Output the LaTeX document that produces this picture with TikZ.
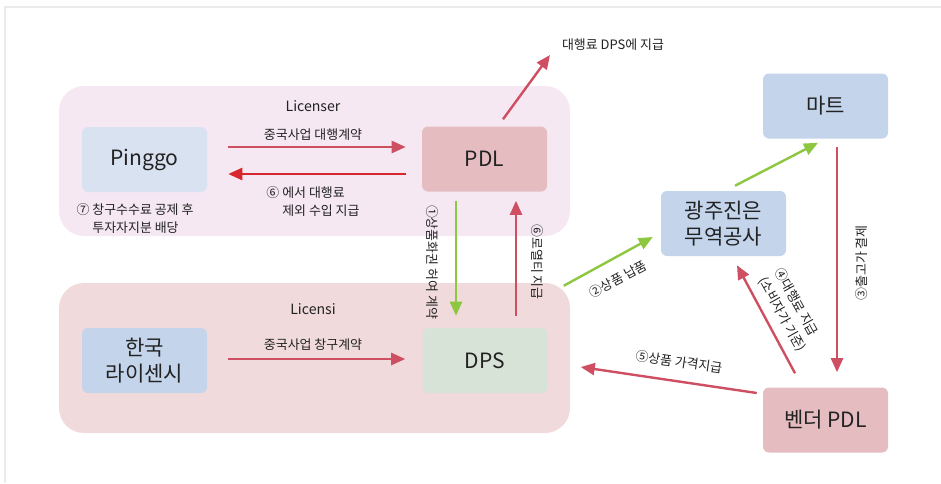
\documentclass[tikz,border=0pt]{standalone}
\usepackage{fontspec}
\setmainfont{Noto Sans CJK KR}
\usetikzlibrary{arrows.meta,calc}
\definecolor{regA}{HTML}{F5E8F3}
\definecolor{regB}{HTML}{F0DADC}
\definecolor{boxblue}{HTML}{C3D4EB}
\definecolor{boxlblue}{HTML}{D9E2F1}
\definecolor{boxpink}{HTML}{E5BCC0}
\definecolor{boxgreen}{HTML}{D8E3D8}
\definecolor{redarr}{HTML}{CF4F62}
\definecolor{brightred}{HTML}{D7262E}
\definecolor{greenarr}{HTML}{8DC63F}
\definecolor{txt}{HTML}{222222}
\tikzset{
  box/.style={rounded corners=4.5pt, minimum width=93.75pt, minimum height=48.75pt, inner sep=0pt, align=center, font=\fontsize{15.8}{19.5}\selectfont, text=txt},
  lbl/.style={font=\fontsize{9.7}{13.5}\selectfont, text=txt, inner sep=1pt},
  hdr/.style={font=\fontsize{10.6}{13}\selectfont, text=txt, inner sep=1pt},
  arr/.style={line width=1.8pt, -{Triangle[length=10.5pt,width=9pt]}},
  redline/.style={arr, draw=redarr},
  greenline/.style={arr, draw=greenarr},
}
\begin{document}
\begin{tikzpicture}[x=0.75pt,y=-0.75pt]
\useasboundingbox (0,0) rectangle (941,483);
\draw[black!8, line width=1.5pt] (5,483) -- (5,7) -- (941,7);
% regions
\fill[regA, rounded corners=18.75pt] (59,86) rectangle (570,236);
\fill[regB, rounded corners=18.75pt] (59,283) rectangle (570,433);
\node[hdr] (licenser) at (313,106) {Licenser};
\node[hdr] (licensi) at (313,309) {Licensi};
% boxes
\node[box, fill=boxlblue] (pinggo) at (144.5,159.5) {Pinggo};
\node[box, fill=boxpink] (pdl) at (484.5,159) {PDL};
\node[box, fill=boxblue] (hanguk) at (144.5,360.5) {한국\\라이센시};
\node[box, fill=boxgreen] (dps) at (485,360.5) {DPS};
\node[box, fill=boxblue] (mart) at (825.5,106) {마트};
\node[box, fill=boxblue] (gwangju) at (723.5,223.5) {광주진은\\무역공사};
\node[box, fill=boxpink] (vendor) at (825.5,420) {벤더 PDL};
\coordinate (dpspay) at (550,55);
% arrows
\draw[redline] ($(pinggo.east)+(21,-12.5)$) -- ($(pdl.west)+(-16,-12)$);
\draw[arr, draw=brightred] ($(pdl.west)+(-16,15)$) -- ($(pinggo.east)+(21,14.5)$);
\draw[redline] ($(hanguk.east)+(21,-1.5)$) -- ($(dps.west)+(-17,-1.5)$);
\draw[greenline] ($(pdl.south)+(-28.5,9)$) -- ($(dps.north)+(-29,-12)$);
\draw[redline] ($(dps.north)+(31,-12)$) -- ($(pdl.south)+(31.5,9)$);
\draw[redline] ($(pdl.north)+(18.5,-7)$) -- (dpspay);
\draw[greenline] ($(dps.north east)+(16,-42)$) -- ($(gwangju.west)+(-8,13.5)$);
\draw[greenline] ($(gwangju.north)+(11.5,-5)$) -- ($(mart.south)+(-7.5,4)$);
\draw[redline] ($(mart.south)+(11.5,8)$) -- ($(vendor.north)+(11.5,-15)$);
\draw[redline] ($(vendor.north)+(-30.5,-14)$) -- ($(gwangju.south)+(13.5,9)$);
\draw[redline] ($(vendor.west)+(-6,-27)$) -- ($(dps.east)+(33,6.5)$);
% labels
\node[lbl] (l1) at (313,135) {중국사업 대행계약};
\node[lbl, align=left] (l6) at (313,202) {⑥ 에서 대행료\\\hphantom{⑥ }제외 수입 지급};
\node[lbl, align=left] (l7) at (135,218.5) {⑦ 창구수수료 공제 후\\\hphantom{⑦ }투자자지분 배당};
\node[lbl] (l2) at (313,345) {중국사업 창구계약};
\node[lbl, rotate=-90] (lc1) at (432,262) {①상품화권 허여 계약};
\node[lbl, rotate=-90] (lc6) at (537,262) {⑥로열티 지급};
\node[lbl] (lpay) at (613,45) {대행료 DPS에 지급};
\node[lbl, rotate=28] (lc2) at (618,279) {②상품 납품};
\node[lbl, rotate=90] (lc3) at (862,263) {③출고가 결제};
\node[lbl, rotate=-61, align=left] (lc4) at (790,310) {④대행료 지급\\(소비자가 기준)};
\node[lbl, rotate=-8] (lc5) at (679,362) {⑤상품 가격지급};
\end{tikzpicture}
\end{document}
